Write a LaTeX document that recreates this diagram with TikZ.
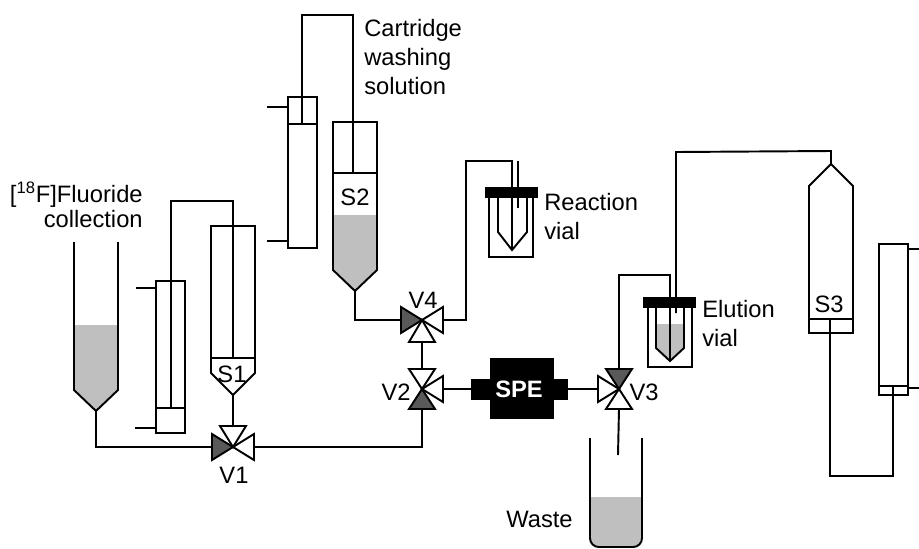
\documentclass[tikz,border=0pt]{standalone}
\usepackage{fontspec}
\setmainfont{Liberation Sans}
\usetikzlibrary{calc}
\tikzset{
  tube/.style={draw=black, line width=1.1pt},
  liquid/.style={fill=black!25},
  valvearm/.style={draw=black, line width=1.1pt, fill=white, line join=miter},
  valveopen/.style={valvearm},
  valveshut/.style={valvearm, fill=black!65},
  blackpart/.style={fill=black},
  tag/.style={inner sep=0pt, font=\fontsize{13.5}{16.5}\selectfont}
}
% four ports round one valve centre
\newcommand{\valveports}[1]{
  \coordinate (#1l) at ($(#1)+(-21,0)$);
  \coordinate (#1r) at ($(#1)+(21,0)$);
  \coordinate (#1t) at ($(#1)+(0,-20)$);
  \coordinate (#1b) at ($(#1)+(0,20)$);
}
\begin{document}
\begin{tikzpicture}[x=0.02cm, y=-0.02cm]
  \useasboundingbox (0,0) rectangle (919,548);

  % valves
  \coordinate (V1) at (233,447); \valveports{V1}
  \coordinate (V2) at (422,389); \valveports{V2}
  \coordinate (V3) at (619,389); \valveports{V3}
  \coordinate (V4) at (422,320); \valveports{V4}

  % fluoride collection
  \coordinate (Ftip) at (96,411);
  \fill[liquid] (74,325) -- (74,390) -- (Ftip) -- (118,390) -- (118,325) -- cycle;
  \draw[tube] (74,242) -- (74,390) -- (Ftip) -- (118,390) -- (118,242);
  \node[tag, anchor=east, align=right] (Fluoride) at (143,205)
    {[\textsuperscript{18}F]Fluoride\\[-2.3pt]collection};

  % first cartridge and S1
  \coordinate (C1rod) at (171,408);
  \coordinate (S1rod) at (233,358);
  \coordinate (S1tip) at (233,395);
  \draw[tube] (156,281) rectangle (185,433);
  \draw[tube] (156,408) -- (185,408);
  \draw[tube] (136,288) -- (156,288);
  \draw[tube] (135,428) -- (156,428);
  \draw[tube] (211,358) -- (255,358);
  \draw[tube] (233,226) -| (211,373) -- (S1tip) -- (255,373) |- (233,226);
  \draw[tube] (C1rod) -- (171,201) -| (S1rod);
  \node[tag] (S1) at (232,374) {S1};

  % second cartridge and S2
  \coordinate (C2rod) at (302,124);
  \coordinate (S2rod) at (353,173);
  \coordinate (S2tip) at (355,291);
  \fill[liquid] (333,215) -- (333,270) -- (S2tip) -- (377,270) -- (377,215) -- cycle;
  \draw[tube] (288,97) rectangle (317,248);
  \draw[tube] (288,124) -- (317,124);
  \draw[tube] (267,107) -- (288,107);
  \draw[tube] (267,241) -- (288,241);
  \draw[tube] (333,173) -- (377,173);
  \draw[tube] (355,122) -| (333,270) -- (S2tip) -- (377,270) |- (355,122);
  \draw[tube] (C2rod) -- (302,15) -| (S2rod);
  \node[tag] (S2) at (355,197) {S2};
  \node[tag, anchor=west, align=left] (Washing) at (364,57)
    {Cartridge\\washing\\solution};

  % reaction vial
  \coordinate (Rtip) at (512,250);
  \draw[tube] (489,192) |- (533,257) -- (533,192);
  \draw[tube] (498,192) -- (498,232) -- (Rtip) -- (527,232) -- (527,192);
  \draw[tube] (Rtip) -- (512,161) -- (466,161) -- (466,320) -- (V4r);
  \draw[tube] (518,161) -- (518,208);
  \fill[blackpart] (485,187) rectangle (538,198);
  \node[tag, anchor=west, align=left] (Reaction) at (544,217)
    {Reaction\\vial};

  % SPE cartridge
  \fill[blackpart] (490,358) rectangle (554,419);
  \fill[blackpart] (471,379) rectangle (568,400);
  \coordinate (SPEl) at (471,389);
  \coordinate (SPEr) at (568,389);
  \node[tag, text=white, font=\fontsize{13.5}{16.5}\selectfont\bfseries] (SPE) at (519,389) {SPE};

  % elution vial
  \coordinate (Etip) at (670,361);
  \fill[liquid] (656,324) -- (656,348) -- (Etip) -- (684,348) -- (684,324) -- cycle;
  \draw[tube] (648,302) |- (692,367) -- (692,302);
  \draw[tube] (656,302) -- (656,348) -- (Etip) -- (684,348) -- (684,302);
  \draw[tube] (Etip) -- (670,275) -- (619,275) -- (V3t);
  \fill[blackpart] (643,297) rectangle (696,308);
  \node[tag, anchor=west, align=left] (Elution) at (702,324) {Elution\\vial};

  % S3 and third cartridge
  \coordinate (S3tip) at (831,164);
  \coordinate (S3rod) at (830,319);
  \coordinate (C3rod) at (893,386);
  \draw[tube] (809,186) -- (S3tip) -- (853,186) -- (853,333) -- (809,333) -- cycle;
  \draw[tube] (809,319) -- (853,319);
  \draw[tube] (879,244) rectangle (908,395);
  \draw[tube] (879,386) -- (908,386);
  \draw[tube] (908,249) -- (919,249);
  \draw[tube] (908,388) -- (919,388);
  \draw[tube] (676,313) -- (676,152) -- (831,151) -- (S3tip);
  \draw[tube] (S3rod) -- (830,476) -| (C3rod);
  \node[tag] (S3) at (829,304) {S3};

  % waste
  \coordinate (Wtube) at (618,455);
  \fill[liquid] (590,497) [rounded corners=5pt] -- (590,547) -- (642,547) [sharp corners] -- (642,497) -- cycle;
  \draw[tube, rounded corners=5pt] (590,438) -- (590,547) -- (642,547) -- (642,438);
  \draw[tube] (V3b) -- (Wtube);
  \node[tag, anchor=east] (Waste) at (573,519) {Waste};

  % tubing between valves
  \draw[tube] (Ftip) |- (V1l);
  \draw[tube] (S1tip) -- (V1t);
  \draw[tube] (V1r) -| (V2b);
  \draw[tube] (V2t) -- (V4b);
  \draw[tube] (S2tip) |- (V4l);
  \draw[tube] (V2r) -- (SPEl);
  \draw[tube] (SPEr) -- (V3l);

  % valve bodies
  \draw[valveshut] (V1) -- ++(-21,-13) -- ++(0,26) -- cycle;
  \draw[valveopen] (V1) -- ++(21,-13) -- ++(0,26) -- cycle;
  \draw[valveopen] (V1) -- ++(-13,-21) -- ++(26,0) -- cycle;

  \draw[valveopen] (V2) -- ++(21,-13) -- ++(0,26) -- cycle;
  \draw[valveopen] (V2) -- ++(-13,-20) -- ++(26,0) -- cycle;
  \draw[valveshut] (V2) -- ++(-13,20) -- ++(26,0) -- cycle;

  \draw[valveopen] (V3) -- ++(-21,-13) -- ++(0,26) -- cycle;
  \draw[valveshut] (V3) -- ++(-13,-20) -- ++(26,0) -- cycle;
  \draw[valveopen] (V3) -- ++(-13,20) -- ++(26,0) -- cycle;

  \draw[valveshut] (V4) -- ++(-21,-13) -- ++(0,26) -- cycle;
  \draw[valveopen] (V4) -- ++(21,-13) -- ++(0,26) -- cycle;
  \draw[valveopen] (V4) -- ++(-13,22) -- ++(26,0) -- cycle;

  \node[tag] (V1name) at (234,475) {V1};
  \node[tag] (V2name) at (396,392) {V2};
  \node[tag] (V3name) at (644,392) {V3};
  \node[tag] (V4name) at (423,300) {V4};
\end{tikzpicture}
\end{document}
